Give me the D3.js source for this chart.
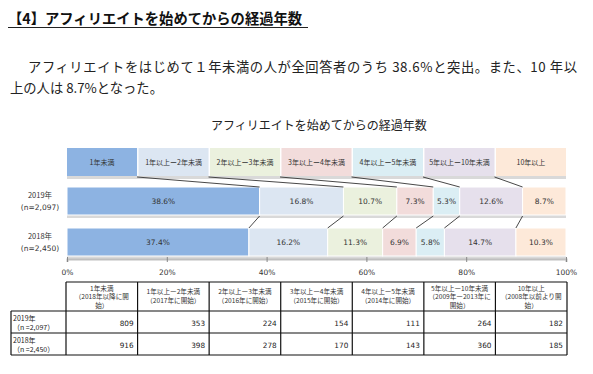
<!DOCTYPE html>
<html>
<head>
<meta charset="utf-8">
<script src="https://cdn.jsdelivr.net/npm/d3@7"></script>
<style>
  body { margin: 0; background: #fff; }
  svg { display: block; }
  .jp { font-family: "Noto Sans CJK JP", sans-serif; }
  .num { font-family: "DejaVu Sans", Verdana, sans-serif; }
</style>
</head>
<body>
<div id="chart"></div>
<script>
// chart data
const categories = ["1年未満", "1年以上ー2年未満", "2年以上ー3年未満", "3年以上ー4年未満",
                    "4年以上ー5年未満", "5年以上ー10年未満", "10年以上"];
const rows = ["2019年", "2018年"];
const rowNotes = ["(n=2,097)", "(n=2,450)"];
const tableNotes = ["（n =2,097）", "（n =2,450）"];
const pct2019 = [38.6, 16.8, 10.7, 7.3, 5.3, 12.6, 8.7];
const pct2018 = [37.4, 16.2, 11.3, 6.9, 5.8, 14.7, 10.3];
const count2019 = [809, 353, 224, 154, 111, 264, 182];
const count2018 = [916, 398, 278, 170, 143, 360, 185];
const tickValues = [0, 20, 40, 60, 80, 100];
const headerLines = [
    ["1年未満", "（2018年以降に開", "始）"],
    ["1年以上ー2年未満", "（2017年に開始）"],
    ["2年以上ー3年未満", "（2016年に開始）"],
    ["3年以上ー4年未満", "（2015年に開始）"],
    ["4年以上ー5年未満", "（2014年に開始）"],
    ["5年以上ー10年未満", "（2009年ー2013年に", "開始）"],
    ["10年以上", "（2008年以前より開", "始）"]
];
const colors = ["#8db3e2", "#dce6f2", "#ebf1de", "#f2dcdb", "#dbeef4", "#e6e0ec", "#fde9d9"];

const width = 593, height = 374;

const svg = d3.select("#chart").append("svg")
    .attr("width", width)
    .attr("height", height);

// heading + paragraph
svg.append("text")
    .attr("class", "jp")
    .attr("x", 8).attr("y", 24)
    .style("font-size", "14.3px").style("font-weight", "bold").attr("fill", "#111")
    .text("【4】アフィリエイトを始めてからの経過年数");
svg.append("line")
    .attr("x1", 8).attr("x2", 308).attr("y1", 27.5).attr("y2", 27.5)
    .attr("stroke", "#222").attr("stroke-width", 1);

svg.append("text")
    .attr("class", "jp")
    .attr("x", 28).attr("y", 72)
    .attr("textLength", 549).attr("lengthAdjust", "spacing")
    .style("font-size", "13.3px").attr("fill", "#222")
    .text("アフィリエイトをはじめて１年未満の人が全回答者のうち 38.6%と突出。また、10 年以");
svg.append("text")
    .attr("class", "jp")
    .attr("x", 10).attr("y", 93)
    .style("font-size", "13.3px").attr("fill", "#222")
    .text("上の人は 8.7%となった。");

// chart title
svg.append("text")
    .attr("class", "jp")
    .attr("x", 319).attr("y", 130)
    .attr("text-anchor", "middle")
    .style("font-size", "12px").attr("fill", "#222")
    .text("アフィリエイトを始めてからの経過年数");

// scales
const x = d3.scaleLinear().domain([0, 100]).range([67, 566]);
const y = d3.scaleBand().domain(rows).range([187, 256]).paddingInner(13 / 41);
const lx = d3.scaleBand().domain(categories).range([67, 566]).paddingInner(0.02);

// stacked rows, normalised to 100%
function stackRow(vals) {
    const total = d3.sum(vals);
    let acc = 0;
    return vals.map((v, i) => {
        const d = { cat: categories[i], value: v, x0: acc / total * 100 };
        acc += v;
        d.x1 = acc / total * 100;
        return d;
    });
}
const stacked = { "2019年": stackRow(pct2019), "2018年": stackRow(pct2018) };

// legend boxes
const legendY = 148, legendH = 28;
svg.append("rect")
    .attr("x", 67).attr("y", legendY + legendH).attr("width", 499).attr("height", 3)
    .attr("fill", "#d9d9d9");
const leg = svg.selectAll(".leg").data(categories).enter().append("g").attr("class", "leg");
leg.append("rect")
    .attr("x", d => lx(d)).attr("y", legendY)
    .attr("width", lx.bandwidth()).attr("height", legendH)
    .attr("fill", (d, i) => colors[i]);
leg.append("text")
    .attr("class", "jp")
    .attr("x", d => lx(d) + lx.bandwidth() / 2).attr("y", legendY + legendH / 2 + 2.5)
    .attr("text-anchor", "middle")
    .style("font-size", "7px").attr("fill", "#333")
    .text(d => d);

// bars
rows.forEach(r => {
    const g = svg.append("g");
    g.append("rect")
        .attr("x", x(0)).attr("y", y(r) + y.bandwidth()).attr("width", x(100) - x(0)).attr("height", 3)
        .attr("fill", "#d9d9d9");
    g.selectAll("rect.seg").data(stacked[r]).enter().append("rect")
        .attr("class", "seg")
        .attr("x", d => x(d.x0)).attr("y", y(r))
        .attr("width", d => x(d.x1) - x(d.x0)).attr("height", y.bandwidth())
        .attr("fill", (d, i) => colors[i])
        .attr("stroke", "#fff").attr("stroke-width", 1);
    g.selectAll("text").data(stacked[r]).enter().append("text")
        .attr("class", "num")
        .attr("x", d => x((d.x0 + d.x1) / 2)).attr("y", y(r) + y.bandwidth() / 2 + 3)
        .attr("text-anchor", "middle")
        .style("font-size", "7.5px").attr("fill", "#333")
        .text(d => d.value.toFixed(1) + "%");
});

// connector lines
const s19 = stacked["2019年"], s18 = stacked["2018年"];
const conn = svg.append("g").attr("stroke", "#333").attr("stroke-width", 0.9);
categories.slice(0, -1).forEach((c, i) => {
    conn.append("line")
        .attr("x1", lx(c) + lx.bandwidth()).attr("y1", legendY + legendH + 1)
        .attr("x2", x(s19[i].x1)).attr("y2", y("2019年"));
    conn.append("line")
        .attr("x1", x(s19[i].x1)).attr("y1", y("2019年") + y.bandwidth() + 1)
        .attr("x2", x(s18[i].x1)).attr("y2", y("2018年"));
});

// row labels
rows.forEach((r, i) => {
    const cy = y(r) + y.bandwidth() / 2;
    svg.append("text").attr("class", "jp")
        .attr("x", 40).attr("y", cy - 3).attr("text-anchor", "middle")
        .style("font-size", "7.5px").attr("fill", "#333").text(r);
    svg.append("text").attr("class", "num")
        .attr("x", 40).attr("y", cy + 9).attr("text-anchor", "middle")
        .style("font-size", "7.5px").attr("fill", "#333").text(rowNotes[i]);
});

// x axis
const axis = svg.append("g")
    .attr("transform", "translate(0,259)")
    .call(d3.axisBottom(x).tickValues(tickValues).tickSize(3).tickPadding(8)
        .tickFormat(d => d + "%"));
axis.select(".domain").attr("stroke", "#bfbfbf").attr("stroke-width", 2);
axis.selectAll(".tick line").attr("stroke", "#888").attr("y1", -2);
axis.selectAll(".tick text")
    .attr("class", "num")
    .style("font-size", "7.5px").attr("fill", "#333");

// data table
const tx = d3.scaleBand().domain(categories).range([66, 567]);
const tLeft = 11, tTop = 282, rowY = [311, 333, 355];
const table = svg.append("g");
const borders = table.append("g").attr("stroke", "#111").attr("stroke-width", 1.2);
// header row covers only the data columns
borders.append("line").attr("x1", 66).attr("x2", 567).attr("y1", tTop).attr("y2", tTop);
rowY.forEach(yy => {
    borders.append("line").attr("x1", tLeft).attr("x2", 567).attr("y1", yy).attr("y2", yy);
});
borders.append("line").attr("x1", tLeft).attr("x2", tLeft).attr("y1", rowY[0]).attr("y2", rowY[2]);
categories.forEach(c => {
    borders.append("line").attr("x1", tx(c)).attr("x2", tx(c)).attr("y1", tTop).attr("y2", rowY[2]);
});
borders.append("line").attr("x1", 567).attr("x2", 567).attr("y1", tTop).attr("y2", rowY[2]);

categories.forEach((c, i) => {
    const lines = headerLines[i];
    const startY = lines.length === 3 ? 290.5 : 294;
    lines.forEach((t, k) => {
        table.append("text").attr("class", "jp")
            .attr("x", tx(c) + tx.bandwidth() / 2).attr("y", startY + k * 8.6)
            .attr("text-anchor", "middle")
            .style("font-size", "6.6px").attr("fill", "#333").text(t);
    });
});

[count2019, count2018].forEach((vals, r) => {
    const top = rowY[r], bottom = rowY[r + 1];
    table.append("text").attr("class", "jp")
        .attr("x", 13).attr("y", top + 9.5)
        .style("font-size", "7px").attr("fill", "#222").text(rows[r]);
    table.append("text").attr("class", "jp")
        .attr("x", 13).attr("y", top + 19)
        .style("font-size", "7px").attr("fill", "#222").text(tableNotes[r]);
    categories.forEach((c, i) => {
        table.append("text").attr("class", "num")
            .attr("x", tx(c) + tx.bandwidth() - 4).attr("y", (top + bottom) / 2 + 3.5)
            .attr("text-anchor", "end")
            .style("font-size", "7.3px").attr("fill", "#222").text(vals[i]);
    });
});
</script>
</body>
</html>
